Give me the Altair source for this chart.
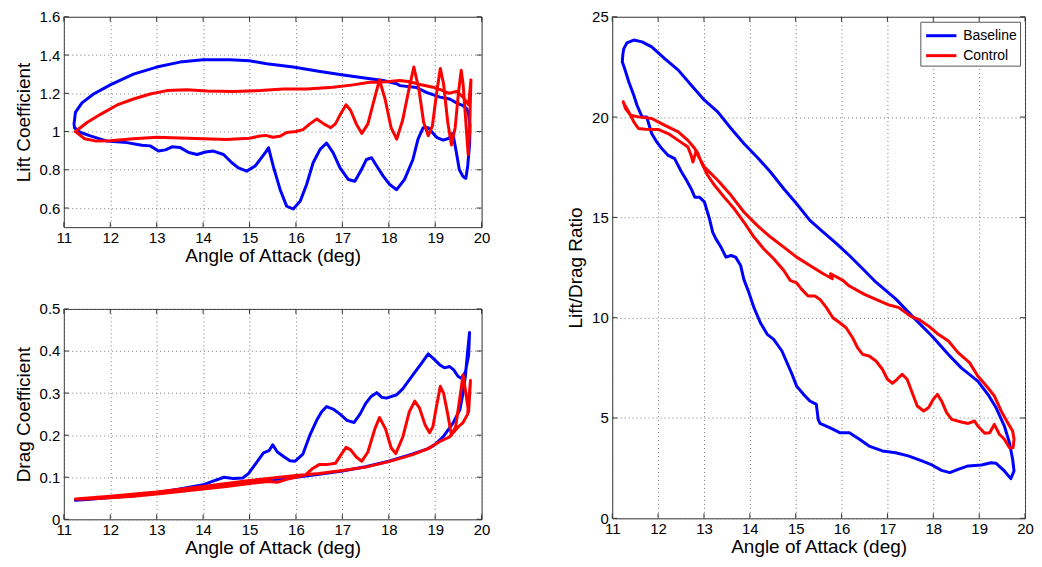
import altair as alt
import pandas as pd

SERIES = ["Baseline", "Control"]
COLORS = ["#0000ff", "#ff0000"]
AOA_TICKS = [11, 12, 13, 14, 15, 16, 17, 18, 19, 20]
CL_TICKS = [0.6, 0.8, 1.0, 1.2, 1.4, 1.6]
CD_TICKS = [0.0, 0.1, 0.2, 0.3, 0.4, 0.5]
LD_TICKS = [0, 5, 10, 15, 20, 25]

# ---------------- Lift coefficient ----------------
base_cl_aoa = [11.22, 11.25, 11.39, 11.64, 12.0, 12.5, 13.0, 13.5, 14.0, 14.58, 15.0, 15.37,
               15.94, 16.52, 17.02, 17.52, 17.88, 18.17, 18.24, 18.6, 18.81, 19.1, 19.31, 19.46,
               19.6, 19.68, 19.72, 19.75, 19.74, 19.7, 19.66, 19.6, 19.52, 19.45, 19.38, 19.3,
               19.17, 19.03, 18.85, 18.74, 18.63, 18.52, 18.34, 18.17, 18.02, 17.88, 17.74,
               17.63, 17.52, 17.41, 17.27, 17.13, 16.95, 16.8, 16.66, 16.52, 16.37, 16.23,
               16.09, 15.94, 15.8, 15.66, 15.51, 15.41, 15.34, 15.23, 15.12, 14.94, 14.76,
               14.62, 14.44, 14.22, 14.05, 13.87, 13.69, 13.51, 13.33, 13.19, 13.04, 12.86,
               12.68, 12.36, 11.93, 11.57, 11.36, 11.23, 11.22]
base_cl = [1.04, 1.10, 1.15, 1.196, 1.244, 1.30, 1.337, 1.363, 1.375, 1.375, 1.37, 1.354,
           1.337, 1.314, 1.296, 1.279, 1.267, 1.25, 1.24, 1.23, 1.205, 1.18, 1.17, 1.15,
           1.135, 1.12, 1.09, 1.03, 0.93, 0.82, 0.755, 0.765, 0.80, 0.90, 0.99, 0.965,
           0.955, 0.97, 1.02, 1.02, 0.96, 0.854, 0.75, 0.696, 0.723, 0.767, 0.82,
           0.863, 0.854, 0.80, 0.74, 0.749, 0.81, 0.89, 0.94, 0.907, 0.837, 0.723,
           0.635, 0.595, 0.61, 0.696, 0.82, 0.915, 0.89, 0.854, 0.82, 0.793, 0.81,
           0.837, 0.88, 0.898, 0.893, 0.88, 0.89, 0.916, 0.92, 0.904, 0.898, 0.925,
           0.928, 0.942, 0.95, 0.977, 0.995, 1.02, 1.04]

ctrl_cl_aoa = [11.25, 11.5, 11.79, 12.15, 12.5, 12.86, 13.22, 13.65, 14.08, 14.65, 15.23, 15.73,
               16.23, 16.8, 17.23, 17.59, 17.95, 18.24, 18.45, 18.7, 18.95, 19.1, 19.3, 19.46,
               19.6, 19.72, 19.77, 19.74, 19.71, 19.66, 19.6, 19.56, 19.5, 19.43, 19.35, 19.27,
               19.18, 19.11, 19.03, 18.94, 18.85, 18.75, 18.65, 18.54, 18.45, 18.3, 18.17,
               18.05, 17.92, 17.8, 17.7, 17.55, 17.42, 17.3, 17.18, 17.08, 16.98, 16.85,
               16.75, 16.6, 16.45, 16.3, 16.15, 16.0, 15.8, 15.65, 15.5, 15.35, 15.2, 15.0,
               14.5, 14.0, 13.5, 13.0, 12.5, 12.0, 11.7, 11.45, 11.25]
ctrl_cl = [1.0, 1.047, 1.09, 1.139, 1.17, 1.196, 1.214, 1.219, 1.212, 1.209, 1.214, 1.223,
           1.223, 1.232, 1.244, 1.258, 1.26, 1.267, 1.26, 1.245, 1.232, 1.22, 1.2, 1.21,
           1.18, 1.14, 1.27, 1.0, 0.88, 1.05, 1.25, 1.32, 1.2, 1.02, 0.93, 1.05,
           1.25, 1.33, 1.2, 1.03, 0.978, 1.05, 1.22, 1.337, 1.24, 1.06, 0.96,
           1.02, 1.17, 1.27, 1.18, 1.04, 0.99, 1.04, 1.11, 1.14, 1.10, 1.04,
           1.02, 1.04, 1.065, 1.04, 1.01, 1.0, 0.995, 0.975, 0.97, 0.98, 0.975, 0.965,
           0.958, 0.962, 0.966, 0.97, 0.962, 0.952, 0.95, 0.962, 1.0]

# ---------------- Drag coefficient ----------------
base_cd_aoa = [11.25, 12.0, 13.0, 14.0, 14.5, 15.0, 15.5, 16.0, 16.5, 17.0, 17.5, 18.0, 18.5,
               18.85, 19.0, 19.17, 19.38, 19.53, 19.6, 19.65, 19.7, 19.74, 19.72, 19.65,
               19.56, 19.49, 19.4, 19.31, 19.2, 19.1, 18.98, 18.85, 18.7, 18.52, 18.3, 18.17,
               17.95, 17.85, 17.74, 17.62, 17.5, 17.38, 17.25, 17.1, 16.95, 16.8, 16.66, 16.55,
               16.45, 16.3, 16.15, 16.09, 15.98, 15.87, 15.75, 15.6, 15.5, 15.42, 15.3, 15.15,
               14.98, 14.85, 14.65, 14.45, 14.2, 14.0, 13.5, 13.0, 12.5, 12.0, 11.5, 11.25]
base_cd = [0.045, 0.052, 0.062, 0.075, 0.082, 0.088, 0.094, 0.10, 0.107, 0.115, 0.125, 0.138, 0.155,
           0.168, 0.178, 0.196, 0.228, 0.26, 0.30, 0.34, 0.40, 0.444, 0.39, 0.35,
           0.335, 0.34, 0.355, 0.363, 0.36, 0.367, 0.38, 0.393, 0.37, 0.343, 0.31, 0.296,
           0.288, 0.29, 0.301, 0.292, 0.275, 0.25, 0.23, 0.235, 0.25, 0.262, 0.268, 0.255,
           0.236, 0.2, 0.155, 0.149, 0.138, 0.139, 0.148, 0.16, 0.177, 0.163, 0.158, 0.135,
           0.109, 0.098, 0.097, 0.10, 0.09, 0.082, 0.072, 0.063, 0.056, 0.052, 0.047, 0.045]

ctrl_cd_aoa = [11.25, 12.0, 13.0, 14.0, 15.0, 15.5, 16.0, 16.5, 17.0, 17.5, 18.0, 18.5, 18.85,
               19.1, 19.3, 19.42, 19.5, 19.6, 19.7, 19.76, 19.72, 19.66, 19.6, 19.52, 19.44,
               19.35, 19.27, 19.18, 19.11, 19.03, 18.95, 18.88, 18.78, 18.66, 18.56, 18.44,
               18.3, 18.15, 18.05, 17.93, 17.8, 17.7, 17.55, 17.42, 17.3, 17.18, 17.08, 16.98,
               16.85, 16.66, 16.5, 16.35, 16.2, 16.0, 15.8, 15.6, 15.4, 15.0, 14.5, 14.0,
               13.5, 13.0, 12.5, 12.0, 11.5, 11.25]
ctrl_cd = [0.048, 0.055, 0.065, 0.078, 0.092, 0.098, 0.104, 0.109, 0.116, 0.124, 0.137, 0.153, 0.168,
           0.185, 0.195, 0.21, 0.22, 0.23, 0.25, 0.33, 0.255, 0.30, 0.343, 0.28, 0.22,
           0.20, 0.25, 0.30, 0.316, 0.27, 0.22, 0.206, 0.225, 0.265, 0.281, 0.255,
           0.195, 0.156, 0.17, 0.215, 0.242, 0.215, 0.16, 0.138, 0.148, 0.165, 0.171, 0.155,
           0.133, 0.13, 0.13, 0.12, 0.105, 0.10, 0.095, 0.088, 0.09, 0.085, 0.078, 0.072,
           0.066, 0.06, 0.055, 0.051, 0.048, 0.048]

# ---------------- Lift / Drag ratio ----------------
base_ld_aoa = [11.22, 11.23, 11.25, 11.32, 11.47, 11.65, 11.86, 12.15, 12.44, 12.72, 13.01, 13.3,
               13.59, 13.87, 14.16, 14.45, 14.74, 15.02, 15.31, 15.6, 15.89, 16.17, 16.46,
               16.75, 17.18, 17.54, 17.97, 18.33, 18.61, 18.97, 19.19, 19.37, 19.55, 19.66,
               19.73, 19.76, 19.69, 19.55, 19.37, 19.26, 19.05, 18.76, 18.54, 18.36, 18.18,
               17.97, 17.75, 17.47, 17.18, 16.89, 16.6, 16.39, 16.17, 15.96, 15.74, 15.53,
               15.49, 15.45, 15.31, 15.17, 15.02, 14.92, 14.81, 14.7, 14.52, 14.38, 14.23,
               14.09, 13.98, 13.87, 13.8, 13.69, 13.59, 13.48, 13.37, 13.26, 13.19, 13.12,
               13.01, 12.9, 12.8, 12.72, 12.62, 12.51, 12.36, 12.22, 12.08, 11.97, 11.86,
               11.75, 11.65, 11.54, 11.47, 11.36, 11.27, 11.22]
base_ld = [22.75, 23.1, 23.4, 23.7, 23.84, 23.75, 23.5, 22.9, 22.34, 21.6, 20.84, 20.26,
           19.43, 18.68, 18.0, 17.26, 16.43, 15.68, 14.85, 14.27, 13.69, 13.1, 12.44,
           11.77, 10.94, 10.08, 9.09, 8.17, 7.5, 6.84, 6.18, 5.51, 4.6, 3.77,
           2.94, 2.36, 1.98, 2.36, 2.74, 2.77, 2.66, 2.61, 2.44, 2.28, 2.39,
           2.66, 2.86, 3.1, 3.27, 3.36, 3.6, 3.94, 4.27, 4.27, 4.52, 4.73,
           4.93, 5.68, 5.85, 6.18, 6.59, 7.18, 7.76, 8.34, 8.92, 9.17, 9.75,
           10.5, 11.25, 11.91, 12.6, 13.02, 13.1, 13.02, 13.52, 13.93, 14.27, 14.93,
           15.77, 16.01, 16.01, 16.43, 16.85, 17.26, 17.93, 18.09, 18.43, 18.76, 19.18,
           20.01, 20.01, 20.59, 21.09, 21.76, 22.42, 22.75]

ctrl_ld_aoa = [11.24, 11.29, 11.4, 11.57, 11.86, 12.15, 12.44, 12.65, 12.8, 12.87, 13.01, 13.3,
               13.59, 13.87, 14.16, 14.45, 14.74, 15.02, 15.31, 15.6, 15.8, 15.76, 16.03,
               16.17, 16.5, 16.75, 17.0, 17.25, 17.5, 17.68, 17.9, 18.11, 18.33, 18.54,
               18.79, 18.97, 19.19, 19.33, 19.48, 19.62, 19.73, 19.76, 19.74, 19.66, 19.55,
               19.44, 19.33, 19.23, 19.12, 18.97, 18.9, 18.76, 18.61, 18.4, 18.29, 18.18,
               18.09, 18.0, 17.9, 17.79, 17.65, 17.54, 17.43, 17.32, 17.21, 17.11, 17.0,
               16.89, 16.75, 16.6, 16.46, 16.35, 16.24, 16.1, 15.96, 15.81, 15.67, 15.53,
               15.42, 15.27, 15.13, 15.02, 14.88, 14.74, 14.52, 14.3, 14.09, 13.87, 13.66,
               13.44, 13.23, 13.08, 12.94, 12.87, 12.83, 12.76, 12.72, 12.65, 12.44, 12.22,
               12.01, 11.72, 11.57, 11.47, 11.36, 11.27, 11.24]
ctrl_ld = [20.76, 20.42, 20.09, 20.01, 19.93, 19.59, 19.26, 18.84, 18.43, 18.09, 17.51, 16.85,
           16.1, 15.27, 14.6, 14.02, 13.52, 13.02, 12.6, 12.19, 11.94, 12.19, 11.86,
           11.58, 11.16, 10.91, 10.66, 10.5, 10.08, 9.92, 9.58, 9.17, 8.84, 8.26,
           7.76, 7.09, 6.51, 6.1, 5.35, 4.77, 4.35, 3.94, 3.52, 3.52, 3.94,
           4.19, 4.68, 4.27, 4.24, 4.6, 4.85, 4.73, 4.8, 4.93, 5.27, 5.85,
           6.18, 5.93, 5.52, 5.35, 5.6, 6.26, 6.93, 7.18, 6.93, 6.73, 6.93,
           7.43, 7.84, 8.09, 8.17, 8.5, 9.0, 9.5, 9.75, 10.0, 10.5, 10.91,
           11.08, 11.08, 11.41, 11.74, 11.86, 12.35, 12.94, 13.44, 14.02, 14.77, 15.43,
           16.01, 16.6, 17.1, 17.76, 18.18, 18.34, 17.76, 18.09, 18.51, 18.84, 19.18,
           19.38, 19.39, 19.43, 19.76, 20.26, 20.62, 20.76]


def table(base_x, base_y, ctrl_x, ctrl_y):
    rows = []
    for name, xs, ys in ((SERIES[0], base_x, base_y), (SERIES[1], ctrl_x, ctrl_y)):
        for i, (x, y) in enumerate(zip(xs, ys)):
            rows.append({"series": name, "idx": i, "aoa": x, "val": y})
    return pd.DataFrame(rows)


FONT = "Liberation Sans"
TICK_LEN = 5
XDOM = [11, 20]


def panel(df, ytitle, ydomain, yticks, w, h, legend=None):
    xscale = alt.Scale(domain=XDOM, nice=False, zero=False)
    yscale = alt.Scale(domain=ydomain, nice=False, zero=False)
    xaxis = alt.Axis(values=AOA_TICKS, title="Angle of Attack (deg)", format="d",
                     labelPadding=3, titlePadding=1)
    yaxis = alt.Axis(values=yticks, title=ytitle, format="~g")
    xenc = alt.X("aoa:Q", scale=xscale, axis=xaxis)
    yenc = alt.Y("val:Q", scale=yscale, axis=yaxis)
    lines = (
        alt.Chart(df)
        .mark_line(strokeWidth=3, interpolate="linear", strokeJoin="round", strokeCap="round")
        .encode(
            x=xenc,
            y=yenc,
            color=alt.Color("series:N", scale=alt.Scale(domain=SERIES, range=COLORS),
                            legend=legend),
            order=alt.Order("idx:Q"),
        )
    )
    # inward tick marks on all four sides (MATLAB style)
    xt = alt.Chart(pd.DataFrame({"aoa": AOA_TICKS})).mark_rule(color="#333333", strokeWidth=1)
    yt = alt.Chart(pd.DataFrame({"val": yticks})).mark_rule(color="#333333", strokeWidth=1)
    bottom = xt.encode(x=xenc, y=alt.value(h), y2=alt.value(h - TICK_LEN))
    top = xt.encode(x=xenc, y=alt.value(0), y2=alt.value(TICK_LEN))
    leftt = yt.encode(y=yenc, x=alt.value(0), x2=alt.value(TICK_LEN))
    rightt = yt.encode(y=yenc, x=alt.value(w), x2=alt.value(w - TICK_LEN))
    return alt.layer(lines, bottom, top, leftt, rightt).properties(width=w, height=h)


lift = panel(table(base_cl_aoa, base_cl, ctrl_cl_aoa, ctrl_cl),
             "Lift Coefficient", [0.5, 1.6], CL_TICKS, 419, 211)
drag = panel(table(base_cd_aoa, base_cd, ctrl_cd_aoa, ctrl_cd),
             "Drag Coefficient", [0, 0.5], CD_TICKS, 419, 211)
legend = alt.Legend(title=None, orient="top-right", offset=5, strokeColor="#555555",
                    fillColor="white", padding=3, symbolType="M-1.6,0H1.6", symbolSize=361,
                    symbolOffset=7, symbolStrokeWidth=3, labelFontSize=14, labelFont=FONT,
                    labelColor="black", rowPadding=2, labelOffset=11, cornerRadius=0)
ratio = panel(table(base_ld_aoa, base_ld, ctrl_ld_aoa, ctrl_ld),
              "Lift/Drag Ratio", [0, 25], LD_TICKS, 414, 503, legend=legend)

left = alt.vconcat(lift, drag, spacing=35)
chart = (
    alt.hconcat(left, ratio, spacing=75)
    .resolve_legend(color="independent")
    .resolve_scale(color="independent")
    .properties(padding={"left": 5, "top": 0, "right": 0, "bottom": 0}, background="white")
    .configure_view(stroke="#333333", strokeWidth=1)
    .configure_axis(
        labelFont=FONT, titleFont=FONT, labelFontSize=15, titleFontSize=19,
        titleFontWeight="normal", labelColor="black", titleColor="black",
        grid=True, gridColor="#777777", gridDash=[1, 3], gridWidth=1, gridOpacity=1,
        domain=False, ticks=False, tickSize=0, labelPadding=4, titlePadding=6,
        labelFlush=False,
    )
)

chart.save("out.html", embed_options={"renderer": "svg", "actions": False})
